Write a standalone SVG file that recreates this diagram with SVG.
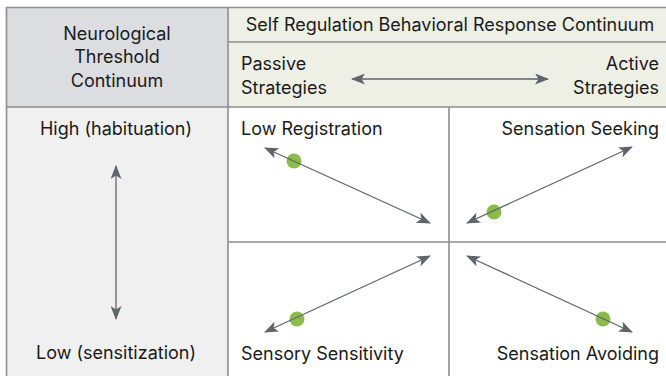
<svg xmlns="http://www.w3.org/2000/svg" width="666" height="376" viewBox="0 0 666 376">
<defs>
<style>
.t{font-family:Inter,"Liberation Sans",sans-serif;font-size:18px;fill:#1a1a1a}
.m{text-anchor:middle}.e{text-anchor:end}
.g{stroke:#8e8f92;stroke-width:1.6;fill:none}
.a{stroke:#60646b;stroke-width:1.3;fill:none;marker-start:url(#ah);marker-end:url(#ah)}
.d{fill:#8bbb4a}
</style>
<marker id="ah" viewBox="0 0 14 11" refX="13" refY="5.5" markerWidth="14" markerHeight="11" markerUnits="userSpaceOnUse" orient="auto-start-reverse">
<path d="M0,0 L14,5.5 L0,11 L3.5,5.5 Z" fill="#60646b"/>
</marker>
</defs>
<g id="background">
<rect x="6" y="7" width="222" height="100" fill="#dcdde0"/>
<rect x="6" y="107" width="222" height="269" fill="#f0f0f0"/>
<rect x="228" y="7" width="438" height="100" fill="#eef0e6"/>
<rect x="228" y="107" width="438" height="269" fill="#ffffff"/>
</g>
<g id="grid">
<path class="g" d="M6,7.5 H666 M6.5,7 V376 M228,7 V376 M228,42 H666 M6,107 H666 M449,107 V376 M228,242 H666"/>
</g>
<g id="neuro-header">
<text class="t m" x="117" y="40">Neurological</text>
<text class="t m" x="117" y="63">Threshold</text>
<text class="t m" x="117" y="87">Continuum</text>
</g>
<g id="self-reg-header">
<text class="t m" x="450" y="31">Self Regulation Behavioral Response Continuum</text>
</g>
<g id="passive">
<text class="t" x="241" y="70">Passive</text>
<text class="t" x="241" y="94">Strategies</text>
</g>
<g id="active">
<text class="t e" x="659" y="70">Active</text>
<text class="t e" x="659" y="94">Strategies</text>
</g>
<g id="high"><text class="t m" x="116" y="135">High (habituation)</text></g>
<g id="low"><text class="t m" x="116" y="359">Low (sensitization)</text></g>
<g id="low-registration"><text class="t" x="241" y="135">Low Registration</text><circle class="d" cx="294" cy="161" r="7.5"/></g>
<g id="sensation-seeking"><text class="t e" x="659" y="135">Sensation Seeking</text><circle class="d" cx="494" cy="212" r="7.5"/></g>
<g id="sensory-sensitivity"><text class="t" x="241" y="360">Sensory Sensitivity</text><circle class="d" cx="297" cy="319" r="7.5"/></g>
<g id="sensation-avoiding"><text class="t e" x="659" y="360">Sensation Avoiding</text><circle class="d" cx="603" cy="319" r="7.5"/></g>
<g id="connectors">
<line class="a" x1="116" y1="166" x2="116" y2="319"/>
<line class="a" x1="352" y1="79" x2="548" y2="79"/>
<line class="a" x1="265" y1="148" x2="430" y2="223"/>
<line class="a" x1="467" y1="223" x2="632" y2="147"/>
<line class="a" x1="265" y1="332" x2="430" y2="256"/>
<line class="a" x1="467" y1="256" x2="632" y2="332"/>
</g>
</svg>
